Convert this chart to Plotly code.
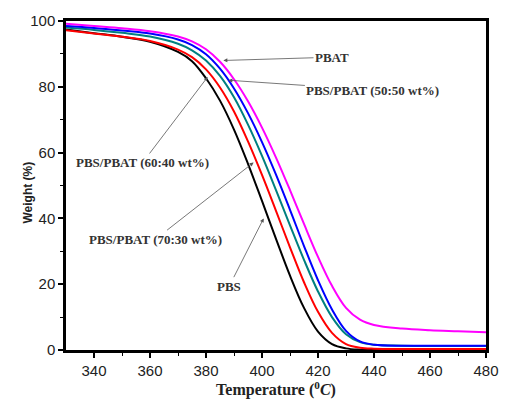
import plotly.graph_objects as go

temperature = [330, 340, 350, 360, 370, 375, 380, 385, 390, 395, 400, 405, 410,
               415, 420, 425, 430, 435, 440, 450, 460, 470, 480]

pbs = [97.4, 96.3, 95.2, 93.7, 90.6, 87.8, 82.6, 75.8, 67.0, 56.6, 45.3, 33.8, 22.6,
       12.8, 5.6, 1.8, 0.5, 0.1, 0.0, 0.0, 0.0, 0.0, 0.0]
pbs_pbat_70_30 = [97.2, 96.2, 95.2, 93.9, 91.3, 89.0, 85.3, 79.8, 72.5, 63.4, 53.2, 42.3, 31.2,
                  20.6, 11.6, 5.2, 1.8, 0.7, 0.4, 0.3, 0.3, 0.3, 0.3]
pbs_pbat_60_40 = [98.0, 97.3, 96.4, 95.3, 93.1, 91.1, 88.0, 83.3, 76.8, 68.5, 59.0, 48.6, 37.9,
                  27.4, 17.8, 10.0, 4.8, 2.4, 1.6, 1.3, 1.2, 1.2, 1.2]
pbat = [98.5, 97.9, 97.1, 96.2, 94.4, 92.7, 89.9, 85.5, 79.5, 72.0, 63.2, 53.3, 42.6,
        31.6, 21.2, 12.3, 5.8, 2.6, 1.6, 1.3, 1.3, 1.3, 1.3]
pbs_pbat_50_50 = [99.2, 98.5, 97.8, 96.9, 95.3, 93.8, 91.4, 87.6, 82.3, 75.6, 67.6, 58.5, 48.6,
                  38.3, 28.3, 19.5, 12.8, 9.2, 7.6, 6.5, 6.0, 5.7, 5.4]

series = [
    ("PBS", pbs, "#000000"),
    ("PBS/PBAT (70:30 wt%)", pbs_pbat_70_30, "#ff0000"),
    ("PBS/PBAT (60:40 wt%)", pbs_pbat_60_40, "#008080"),
    ("PBAT", pbat, "#0000ff"),
    ("PBS/PBAT (50:50 wt%)", pbs_pbat_50_50, "#ff00ff"),
]

fig = go.Figure()
for name, vals, color in series:
    fig.add_trace(go.Scatter(x=temperature, y=vals, mode="lines", name=name,
                             line=dict(color=color, width=2, shape="spline", smoothing=1.0)))

# labels: (text, text x, text y, arrow tip x, arrow tip y)
labels = [
    ("PBAT", 425.0, 89.0, 386.2, 88.0),
    ("PBS/PBAT (50:50 wt%)", 439.6, 79.0, 388.0, 82.0),
    ("PBS/PBAT (60:40 wt%)", 357.4, 57.0, 380.6, 83.0),
    ("PBS/PBAT (70:30 wt%)", 362.0, 33.7, 397.0, 57.0),
    ("PBS", 388.3, 19.4, 400.6, 40.0),
]
for text, tx, ty, ax_, ay_ in labels:
    fig.add_annotation(x=ax_, y=ay_, ax=tx, ay=ty, xref="x", yref="y", axref="x", ayref="y",
                       text="<b>" + text + "</b>", showarrow=True, arrowhead=2, arrowsize=1,
                       arrowwidth=0.8, arrowcolor="#555555",
                       font=dict(family="Liberation Serif", size=13, color="#333333"),
                       borderpad=1)

fig.add_annotation(x=-0.091, y=0.478, xref="paper", yref="paper", text="<b>Weight (%)</b>",
                   textangle=-90, showarrow=False, xanchor="center", yanchor="middle",
                   font=dict(family="Liberation Sans", size=12, color="#222222"))

fig.update_layout(
    width=511, height=406,
    margin=dict(l=66, r=18, t=18, b=53),
    paper_bgcolor="white", plot_bgcolor="white",
    showlegend=False,
    font=dict(family="Liberation Sans", size=15, color="#222222"),
)
fig.update_xaxes(range=[330, 480], tickvals=[340, 360, 380, 400, 420, 440, 460, 480],
                 showgrid=False, zeroline=False, showline=True, linecolor="black", linewidth=2.5,
                 mirror=True, ticks="outside", ticklen=5, tickwidth=1.5, tickcolor="black",
                 minor=dict(tickvals=[350, 370, 390, 410, 430, 450, 470], ticks="outside",
                            ticklen=3, tickwidth=1, tickcolor="black"),
                 tickfont=dict(family="Liberation Sans", size=15),
                 title=dict(text="<b>Temperature (<sup>0</sup><i>C</i>)</b>",
                            font=dict(family="Liberation Serif", size=16), standoff=4))
fig.update_yaxes(range=[0, 100], tickvals=[0, 20, 40, 60, 80, 100],
                 showgrid=False, zeroline=False, showline=True, linecolor="black", linewidth=2.5,
                 mirror=True, ticks="outside", ticklen=5, tickwidth=1.5, tickcolor="black",
                 minor=dict(tickvals=[10, 30, 50, 70, 90], ticks="outside",
                            ticklen=3, tickwidth=1, tickcolor="black"),
                 tickfont=dict(family="Liberation Sans", size=15))

fig.write_html("out.html", config={"displayModeBar": False},
               post_script="document.body.style.margin='0';")
